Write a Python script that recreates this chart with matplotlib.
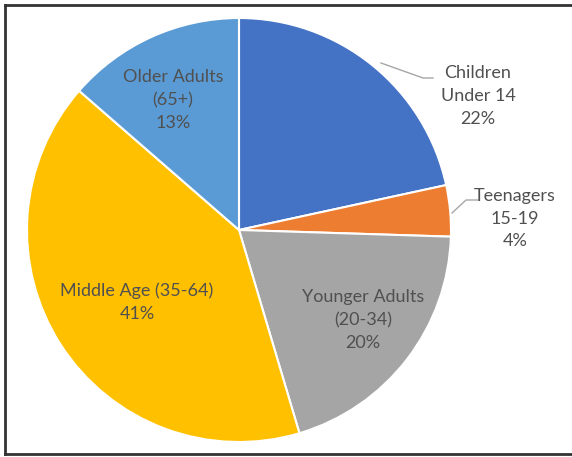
"""pie chart of population by age group"""
import matplotlib.pyplot as plt
from matplotlib.lines import Line2D

groups = ["Children\nUnder 14", "Teenagers\n15-19", "Younger Adults\n(20-34)",
          "Middle Age (35-64)", "Older Adults\n(65+)"]
shares = [21.6, 3.9, 19.9, 41.0, 13.6]
pct_labels = ["22%", "4%", "20%", "41%", "13%"]
colors = ["#4472C4", "#ED7D31", "#A5A5A5", "#FFC000", "#5B9BD5"]

W, H = 572, 457
fig = plt.figure(figsize=(W / 100, H / 100), dpi=100)
ax = fig.add_axes([0, 0, 1, 1])

cx, cy, r = 239, H - 230, 212
ax.pie(shares, colors=colors, startangle=90, counterclock=False,
       center=(cx, cy), radius=r, frame=True,
       wedgeprops=dict(edgecolor="white", linewidth=1.5))
ax.set_xlim(0, W)
ax.set_ylim(0, H)
ax.axis("off")

# label positions in pixels (x, y from top)
label_pos = [(478, 96), (515, 219), (363, 320), (137, 302), (173, 100)]
for name, pct, (lx, ly) in zip(groups, pct_labels, label_pos):
    ax.text(lx, H - ly, f"{name}\n{pct}", ha="center", va="center",
            fontsize=13, family="Lato", color="#505050", linespacing=1.5)

# leader lines
ax.plot([381, 423, 433], [H - 63, H - 78, H - 78], color="#A6A6A6", lw=1)
ax.plot([452, 466, 478], [H - 213, H - 200, H - 200], color="#A6A6A6", lw=1)

# frame (left, top, bottom; right side is cut off)
for xs, ys in [([5, 5], [3, 452]), ([5, W], [452, 452]), ([5, W], [3, 3])]:
    fig.add_artist(Line2D([x / W for x in xs], [y / H for y in ys],
                          color="#333333", lw=2))
fig.savefig("out.png", dpi=100)
